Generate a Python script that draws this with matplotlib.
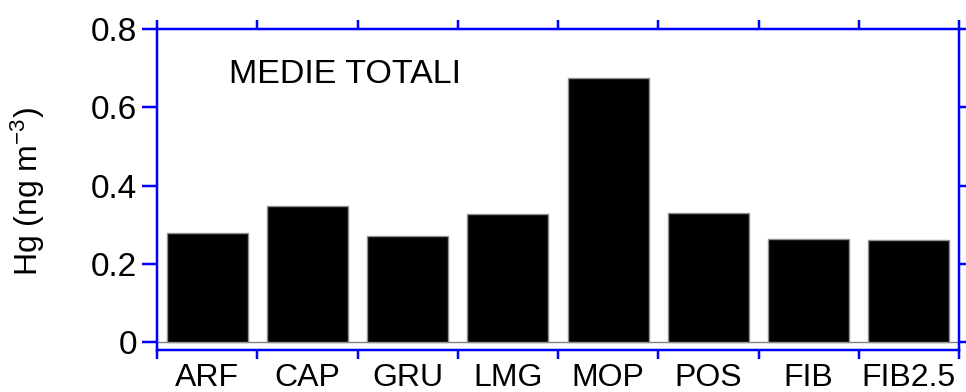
import numpy as np
import matplotlib
matplotlib.use("Agg")
from matplotlib import pyplot as plt

# mean Hg concentration per site
sites = ["ARF", "CAP", "GRU", "LMG", "MOP", "POS", "FIB", "FIB2.5"]
hg_mean = [0.279, 0.347, 0.270, 0.327, 0.676, 0.330, 0.263, 0.261]
y_ticks = [0, 0.2, 0.4, 0.6, 0.8]
y_tick_labels = ["0", "0.2", "0.4", "0.6", "0.8"]

plt.rcParams['font.family'] = ['Liberation Sans', 'DejaVu Sans']
plt.rcParams['mathtext.fontset'] = 'custom'
plt.rcParams['mathtext.rm'] = 'Liberation Sans'
plt.rcParams['mathtext.it'] = 'Liberation Sans'

blue = "#0000ff"
px = 72 / 100  # one pixel in points at dpi 100

fig = plt.figure(figsize=(9.66, 3.92), dpi=100)
ax = fig.add_axes([157 / 966, 1 - 350 / 392, 802 / 966, 321 / 392])

x = np.arange(len(sites)) + 0.5
ax.bar(x, hg_mean, width=0.81, color="black", edgecolor="#909090", linewidth=1.0, zorder=3)
ax.axhline(0, color="#808080", linewidth=1.0, zorder=2)

# leave a small gap between the zero line and the bottom axis
ax.set_xlim(0, len(sites))
ax.set_ylim(-8 / 391.25, 0.8)

for side in ["left", "right", "top", "bottom"]:
    ax.spines[side].set_color(blue)
    ax.spines[side].set_linewidth(2.5 * px)

ax.set_yticks(y_ticks)
ax.set_yticklabels(y_tick_labels)
ax.tick_params(axis="y", which="major", direction="out", length=15 * px, width=2.5 * px,
               color=blue, left=True, right=True, labelsize=24, pad=5 * px)

# category boundaries as major ticks, names on minor ticks
ax.set_xticks(np.arange(len(sites) + 1))
ax.set_xticklabels([])
ax.set_xticks(x, minor=True)
ax.set_xticklabels(sites, minor=True)
ax.tick_params(axis="x", which="major", direction="out", length=9 * px, width=2.5 * px,
               color=blue, top=True, bottom=True)
ax.tick_params(axis="x", which="minor", length=0, labelsize=23, pad=13 * px)

fig.text(28 / 966, 1 - 191 / 392, "Hg (ng m$^{\\mathrm{-3}}$)", rotation=90, ha="center",
         va="center", fontsize=23)
fig.text(229 / 966, 1 - 83 / 392, "MEDIE TOTALI", ha="left", va="baseline", fontsize=24.5)

fig.savefig("out.png", dpi=100)
